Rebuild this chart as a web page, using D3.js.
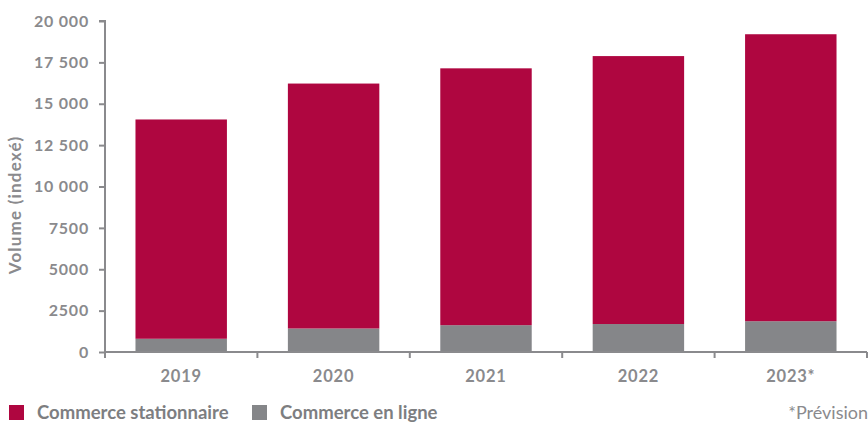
<!DOCTYPE html>
<html><head><meta charset="utf-8">
<script src="https://cdn.jsdelivr.net/npm/d3@7"></script>
<style>body{margin:0;background:#fff}svg{display:block}</style>
</head><body>
<svg id="c" width="868" height="423"></svg>
<script>
const categories = ["2019","2020","2021","2022","2023*"];
const online = [800, 1420, 1620, 1690, 1860];
const stationary = [13250, 14800, 15520, 16190, 17340];
const yTicks = [0,2500,5000,7500,10000,12500,15000,17500,20000];
const yTickLabels = ["0","2500","5000","7500","10 000","12 500","15 000","17 500","20 000"];
const seriesNames = ["Commerce stationnaire","Commerce en ligne"];
const colors = ["#AF0640","#858689"];
const axisColor = "#8a8a8d";
const font = "Lato, 'Open Sans', sans-serif";

const svg = d3.select("#c");
const x = d3.scaleBand().domain(categories).range([105, 867]).paddingInner(0.4).paddingOuter(0.2);
const y = d3.scaleLinear().domain([0,20000]).range([352, 21]);

const data = categories.map((c,i)=>({cat:c, online:online[i], stationary:stationary[i]}));
const stack = d3.stack().keys(["online","stationary"])(data);
const colMap = {online:colors[1], stationary:colors[0]};

svg.append("g").selectAll("g").data(stack).join("g")
  .attr("fill", d=>colMap[d.key])
  .selectAll("rect").data(d=>d).join("rect")
  .attr("x", d=>x(d.data.cat))
  .attr("width", x.bandwidth())
  .attr("y", d=>y(d[1]))
  .attr("height", d=>y(d[0])-y(d[1]));

// y axis
const ya = svg.append("g").attr("transform","translate(105,0)")
  .call(d3.axisLeft(y).tickValues(yTicks).tickSize(6).tickPadding(10).tickFormat((d,i)=>yTickLabels[i]));
ya.select(".domain").attr("stroke",axisColor).attr("stroke-width",2).attr("d","M-6,21H0V352");
ya.selectAll(".tick line").attr("stroke",axisColor).attr("stroke-width",2);
ya.selectAll(".tick text").attr("fill",axisColor).style("font-family",font).style("font-size","16px").style("font-weight","bold").style("letter-spacing","0.8px");

// x axis
const xa = svg.append("g").attr("transform","translate(0,352)");
xa.append("line").attr("x1",105).attr("x2",867).attr("stroke",axisColor).attr("stroke-width",2);
const bounds = categories.map(c=>x(c)-x.step()*x.paddingInner()/2).concat([867]);
xa.selectAll(".tk").data(bounds).join("line")
  .attr("x1",d=>d).attr("x2",d=>d).attr("y1",0).attr("y2",6)
  .attr("stroke",axisColor).attr("stroke-width",2);
xa.selectAll(".lbl").data(categories).join("text")
  .attr("x",d=>x(d)+x.bandwidth()/2).attr("y",30)
  .attr("text-anchor","middle").attr("fill",axisColor)
  .style("font-family",font).style("font-size","16.5px").style("font-weight","bold").style("letter-spacing","0.8px")
  .text(d=>d);

// y label
svg.append("text").attr("transform","translate(21,205) rotate(-90)")
  .attr("text-anchor","middle").attr("fill",axisColor)
  .style("font-family",font).style("font-size","17px").style("font-weight","bold").style("letter-spacing","1.2px")
  .text("Volume (indexé)");

// legend
const leg = svg.append("g");
const legX = [9, 252];
seriesNames.forEach((n,i)=>{
  leg.append("rect").attr("x",legX[i]).attr("y",405).attr("width",15).attr("height",15).attr("fill",colors[i]);
  leg.append("text").attr("x",legX[i]+28).attr("y",419).attr("fill","#7d7e81")
    .style("font-family",font).style("font-size","18.5px").style("font-weight","bold").text(n);
});
svg.append("text").attr("x",868).attr("y",419).attr("text-anchor","end").attr("fill","#8a8a8d")
  .style("font-family",font).style("font-size","18px").text("*Prévision");
</script>
</body></html>
